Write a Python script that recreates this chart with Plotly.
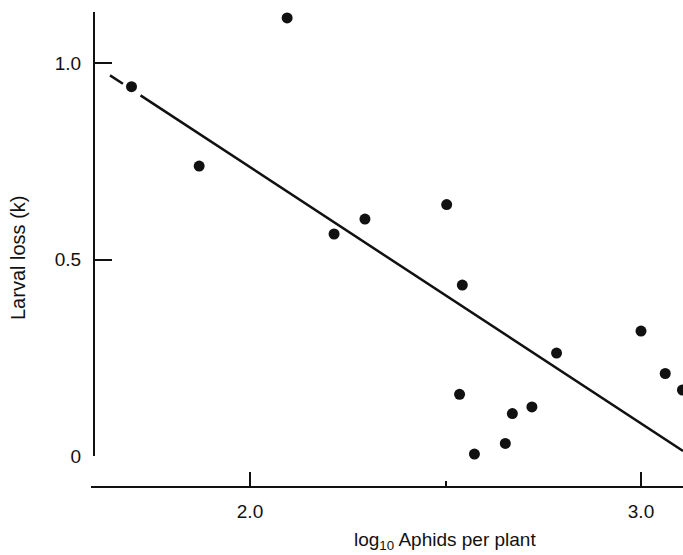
import plotly.graph_objects as go

# Observed points: log10 aphids per plant vs larval loss (k)
log_aphids = [1.697, 1.870, 2.095, 2.215, 2.294, 2.503, 2.543, 2.536,
              2.574, 2.653, 2.671, 2.721, 2.784, 3.000, 3.062, 3.106]
larval_loss = [0.940, 0.738, 1.115, 0.565, 0.603, 0.640, 0.435, 0.157,
               0.005, 0.032, 0.108, 0.125, 0.262, 0.318, 0.210, 0.168]

# Fitted regression line k = intercept + slope * log10(aphids)
fit_intercept = 2.040
fit_slope = -0.6524
fit_dash_x = [1.642, 1.675]      # extrapolated (dashed) part
fit_solid_x = [1.720, 3.1074]    # fitted (solid) part

x_tickvals = [2.0, 3.0]
x_ticktext = ["2.0", "3.0"]
x_minor_tickvals = [2.5]
y_tickvals = [0, 0.5, 1.0]
y_ticktext = ["0", "0.5", "1.0"]

W, H = 683, 555
ML, MR, MT, MB = 91, 0, 12, 68
plot_w = W - ML - MR
plot_h = H - MT - MB

font_family = "Liberation Sans, Arial, sans-serif"
ink = "#111111"

fig = go.Figure()

fig.add_trace(go.Scatter(
    x=fit_dash_x, y=[fit_intercept + fit_slope * v for v in fit_dash_x],
    mode="lines", line=dict(color=ink, width=2.5), cliponaxis=False,
    hoverinfo="skip", showlegend=False))
fig.add_trace(go.Scatter(
    x=fit_solid_x, y=[fit_intercept + fit_slope * v for v in fit_solid_x],
    mode="lines", line=dict(color=ink, width=2.5), cliponaxis=False,
    hoverinfo="skip", showlegend=False))
fig.add_trace(go.Scatter(
    x=log_aphids, y=larval_loss, mode="markers",
    marker=dict(color=ink, size=11, line=dict(width=0)),
    cliponaxis=False, showlegend=False))

y_bottom_px = 456  # pixel row of y = 0
y_domain_lo = (H - MB - y_bottom_px) / plot_h
y_axis_px = 94
y_axis_pos = (y_axis_px - ML) / plot_w

fig.update_layout(
    width=W, height=H,
    margin=dict(l=ML, r=MR, t=MT, b=MB, pad=0),
    paper_bgcolor="white", plot_bgcolor="white",
    font=dict(family=font_family, color=ink, size=19),
    xaxis=dict(
        range=[1.5934, 3.1074], domain=[0, 1], anchor="free", position=0,
        showline=True, linecolor=ink, linewidth=2, showgrid=False, zeroline=False,
        ticks="inside", ticklen=14, tickwidth=2, tickcolor=ink,
        tickvals=x_tickvals, ticktext=x_ticktext, ticklabelstandoff=7,
        minor=dict(tickvals=x_minor_tickvals, ticks="inside", ticklen=5,
                   tickwidth=1.5, tickcolor=ink, showgrid=False),
        tickfont=dict(size=19),
    ),
    yaxis=dict(
        range=[0, 1.130], domain=[y_domain_lo, 1], anchor="free", position=y_axis_pos,
        showline=True, linecolor=ink, linewidth=2, showgrid=False, zeroline=False,
        ticks="inside", ticklen=17, tickwidth=2, tickcolor=ink,
        tickvals=y_tickvals, ticktext=y_ticktext, ticklabelstandoff=8,
        tickfont=dict(size=19),
    ),
    annotations=[
        dict(text="log<sub>10</sub> Aphids per plant", xref="paper", yref="paper",
             x=(445 - ML) / plot_w, y=(H - MB - 541) / plot_h,
             xanchor="center", yanchor="middle", showarrow=False,
             font=dict(size=19, family=font_family, color=ink)),
        dict(text="Larval loss (k)", xref="paper", yref="paper",
             x=(18 - ML) / plot_w, y=(H - MB - 258) / plot_h, textangle=-90,
             xanchor="center", yanchor="middle", showarrow=False,
             font=dict(size=20, family=font_family, color=ink)),
    ],
)

fig.write_html("out.html")
